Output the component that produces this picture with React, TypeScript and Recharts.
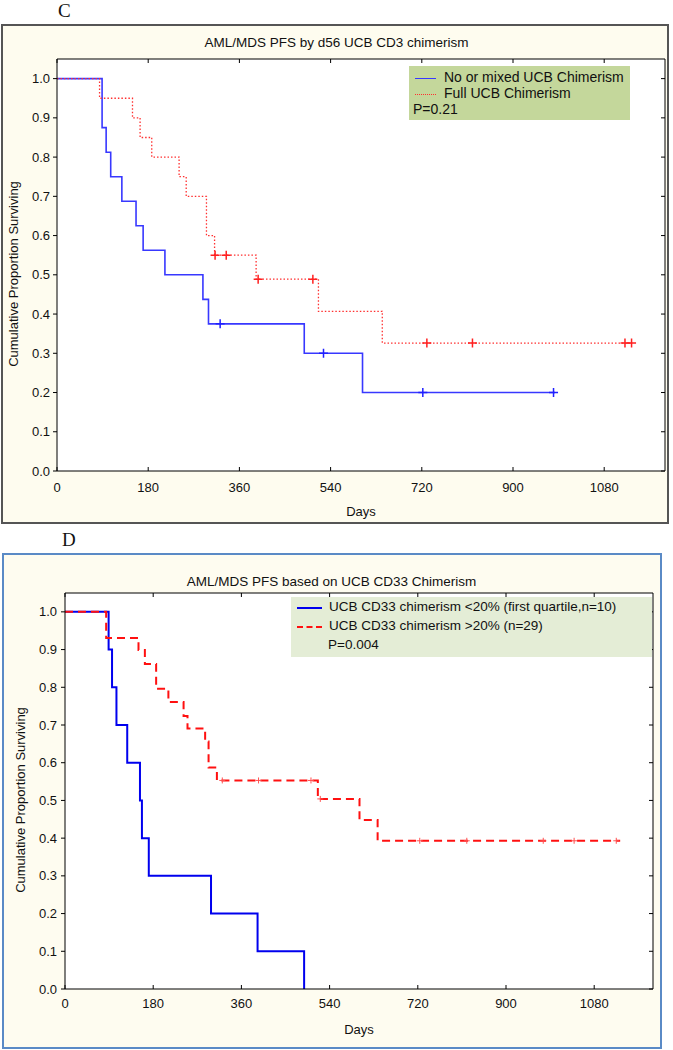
import React from 'react';
import { ComposedChart, Line, Scatter, XAxis, YAxis, CartesianGrid } from 'recharts';

// Panel C: PFS by d56 UCB CD3 chimerism
const mixedDays = [0, 89, 97, 106, 128, 156, 170, 213, 288, 299, 488, 603, 983];
const mixedSurv = [1, 0.875, 0.8125, 0.75, 0.6875, 0.625, 0.5625, 0.5, 0.4375, 0.375, 0.3, 0.2, 0.2];
const mixedCensorDays = [322, 526, 722, 980];
const mixedCensorSurv = [0.375, 0.3, 0.2, 0.2];

const fullDays = [0, 84, 149, 164, 187, 241, 255, 295, 311, 393, 516, 642, 1136];
const fullSurv = [1, 0.95, 0.9, 0.85, 0.8, 0.75, 0.7, 0.6, 0.55, 0.489, 0.407, 0.326, 0.326];
const fullCensorDays = [312, 334, 397, 505, 730, 820, 1121, 1134];
const fullCensorSurv = [0.55, 0.55, 0.489, 0.489, 0.326, 0.326, 0.326, 0.326];

// Panel D: PFS based on UCB CD33 chimerism
const lowDays = [0, 89, 96, 105, 127, 153, 157, 171, 298, 393, 488];
const lowSurv = [1, 0.9, 0.8, 0.7, 0.6, 0.5, 0.4, 0.3, 0.2, 0.1, 0];

const highDays = [0, 84, 150, 163, 186, 211, 242, 250, 286, 293, 310, 516, 601, 638, 1133];
const highSurv = [1, 0.931, 0.899, 0.862, 0.796, 0.761, 0.724, 0.691, 0.656, 0.587, 0.553, 0.504, 0.448, 0.393, 0.393];
const highCensorDays = [321, 395, 502, 521, 724, 820, 976, 1039, 1125];
const highCensorSurv = [0.553, 0.553, 0.553, 0.504, 0.393, 0.393, 0.393, 0.393, 0.393];

const xTicks = [0, 180, 360, 540, 720, 900, 1080];
const yTicks = [0, 0.1, 0.2, 0.3, 0.4, 0.5, 0.6, 0.7, 0.8, 0.9, 1.0];

const rows = (days: number[], surv: number[]) => days.map((d, i) => ({ d, v: surv[i] }));

const font = '"Liberation Sans", Arial, sans-serif';
const tickStyle = { fontSize: 13, fill: '#111', fontFamily: font };

const plus = (color: string, size: number, width: number) => (props: any) => {
  const { cx, cy } = props;
  if (cx == null || cy == null) return <g />;
  return (
    <path
      d={`M${cx - size},${cy}H${cx + size}M${cx},${cy - size}V${cy + size}`}
      stroke={color}
      strokeWidth={width}
      fill="none"
    />
  );
};

const empty = () => <g />;

const frameAxes = (bottomMargin: number) => [
  <XAxis
    key="xb"
    type="number"
    dataKey="d"
    domain={[0, 1200]}
    ticks={xTicks}
    allowDataOverflow
    height={48}
    tickSize={-4}
    tickMargin={bottomMargin}
    tick={tickStyle}
    stroke="#000"
    label={{ value: 'Days', position: 'insideBottom', offset: 3, style: { fontSize: 13, fill: '#111', fontFamily: font } }}
  />,
  <XAxis
    key="xt"
    xAxisId="t"
    orientation="top"
    mirror
    type="number"
    dataKey="d"
    domain={[0, 1200]}
    ticks={xTicks}
    allowDataOverflow
    height={10}
    tickSize={4}
    tick={empty}
    stroke="#000"
  />,
  <YAxis
    key="yr"
    yAxisId="r"
    orientation="right"
    mirror
    type="number"
    domain={[0, 1.05]}
    ticks={yTicks}
    allowDataOverflow
    width={10}
    tickSize={4}
    tick={empty}
    stroke="#000"
  />,
];

const App = () => {
  return (
    <div style={{ position: 'absolute', left: 0, top: 0, width: 673, height: 1050, fontFamily: font, color: '#111' }}>
      {/* Panel C */}
      <div style={{ position: 'absolute', left: 58, top: 0, fontFamily: '"Liberation Serif", serif', fontSize: 19 }}>C</div>
      <div
        style={{
          position: 'absolute', left: 1, top: 24, width: 668, height: 500, boxSizing: 'border-box',
          border: '2px solid #555', background: '#fefcef',
        }}
      />
      <div style={{ position: 'absolute', left: 0, width: 673, top: 35, textAlign: 'center', fontSize: 13.5 }}>
        AML/MDS PFS by d56 UCB CD3 chimerism
      </div>
      <div style={{ position: 'absolute', left: 0, top: 0 }}>
        <ComposedChart width={673} height={530} margin={{ top: 59, right: 8, bottom: 11, left: 0 }}>
          <CartesianGrid horizontal={false} vertical={false} fill="#ffffff" />
          {frameAxes(16)}
          <YAxis
            type="number"
            domain={[0, 1.05]}
            ticks={yTicks}
            allowDataOverflow
            width={57}
            tickSize={4}
            tickMargin={3}
            tick={tickStyle}
            tickFormatter={(v: number) => v.toFixed(1)}
            stroke="#000"
          />
          <Line data={rows(mixedDays, mixedSurv)} dataKey="v" type="stepAfter" stroke="#3838ff" strokeWidth={1.6} dot={false} isAnimationActive={false} />
          <Line data={rows(fullDays, fullSurv)} dataKey="v" type="stepAfter" stroke="#ff3030" strokeWidth={1.3} strokeDasharray="1.5 2" dot={false} isAnimationActive={false} />
          <Scatter data={rows(mixedCensorDays, mixedCensorSurv)} dataKey="v" shape={plus('#2020ff', 4.5, 1.5)} isAnimationActive={false} />
          <Scatter data={rows(fullCensorDays, fullCensorSurv)} dataKey="v" shape={plus('#ff2020', 4.5, 1.5)} isAnimationActive={false} />
        </ComposedChart>
      </div>
      <div
        style={{
          position: 'absolute', left: 13, top: 274, width: 0, height: 0,
        }}
      >
        <div style={{ position: 'absolute', transform: 'translate(-50%, -50%) rotate(-90deg)', whiteSpace: 'nowrap', fontSize: 13 }}>
          Cumulative Proportion Surviving
        </div>
      </div>
      <div style={{ position: 'absolute', left: 409, top: 66, width: 221, height: 54, background: '#c4d79b', fontSize: 14 }}>
        <div style={{ position: 'absolute', left: 6, top: 12, width: 21, borderTop: '1.5px solid #3838ff' }} />
        <div style={{ position: 'absolute', left: 35, top: 3 }}>No or mixed UCB Chimerism</div>
        <div style={{ position: 'absolute', left: 6, top: 28, width: 21, borderTop: '1.5px dotted #ff3030' }} />
        <div style={{ position: 'absolute', left: 35, top: 19 }}>Full UCB Chimerism</div>
        <div style={{ position: 'absolute', left: 4, top: 35 }}>P=0.21</div>
      </div>

      {/* Panel D */}
      <div style={{ position: 'absolute', left: 62, top: 529, fontFamily: '"Liberation Serif", serif', fontSize: 19 }}>D</div>
      <div
        style={{
          position: 'absolute', left: 2, top: 553, width: 660, height: 496, boxSizing: 'border-box',
          border: '2.5px solid #5a8ac6', background: '#fefcf0',
        }}
      />
      <div style={{ position: 'absolute', left: 0, width: 663, top: 574, textAlign: 'center', fontSize: 13.5 }}>
        AML/MDS PFS based on UCB CD33 Chimerism
      </div>
      <div style={{ position: 'absolute', left: 0, top: 553 }}>
        <ComposedChart width={673} height={495} margin={{ top: 40, right: 20, bottom: 11, left: 0 }}>
          <CartesianGrid horizontal={false} vertical={false} fill="#ffffff" />
          {frameAxes(14)}
          <YAxis
            type="number"
            domain={[0, 1.05]}
            ticks={yTicks}
            allowDataOverflow
            width={65}
            tickSize={4}
            tickMargin={4}
            tick={tickStyle}
            tickFormatter={(v: number) => v.toFixed(1)}
            stroke="#000"
          />
          <Line data={rows(lowDays, lowSurv)} dataKey="v" type="stepAfter" stroke="#0000ee" strokeWidth={2} dot={false} isAnimationActive={false} />
          <Line data={rows(highDays, highSurv)} dataKey="v" type="stepAfter" stroke="#ff1010" strokeWidth={2} strokeDasharray="8 5" dot={false} isAnimationActive={false} />
          <Scatter data={rows(highCensorDays, highCensorSurv)} dataKey="v" shape={plus('#ff5050', 3, 1)} isAnimationActive={false} />
        </ComposedChart>
      </div>
      <div style={{ position: 'absolute', left: 20, top: 800, width: 0, height: 0 }}>
        <div style={{ position: 'absolute', transform: 'translate(-50%, -50%) rotate(-90deg)', whiteSpace: 'nowrap', fontSize: 13 }}>
          Cumulative Proportion Surviving
        </div>
      </div>
      <div style={{ position: 'absolute', left: 291, top: 597, width: 361, height: 60, background: '#e4edd6', fontSize: 13.5 }}>
        <div style={{ position: 'absolute', left: 6, top: 10, width: 25, borderTop: '2px solid #0000ee' }} />
        <div style={{ position: 'absolute', left: 38, top: 2 }}>UCB CD33 chimerism &lt;20% (first quartile,n=10)</div>
        <div style={{ position: 'absolute', left: 6, top: 29, width: 25, borderTop: '2px dashed #ff1010' }} />
        <div style={{ position: 'absolute', left: 38, top: 21 }}>UCB CD33 chimerism &gt;20% (n=29)</div>
        <div style={{ position: 'absolute', left: 37, top: 40 }}>P=0.004</div>
      </div>
    </div>
  );
};

export default App;
